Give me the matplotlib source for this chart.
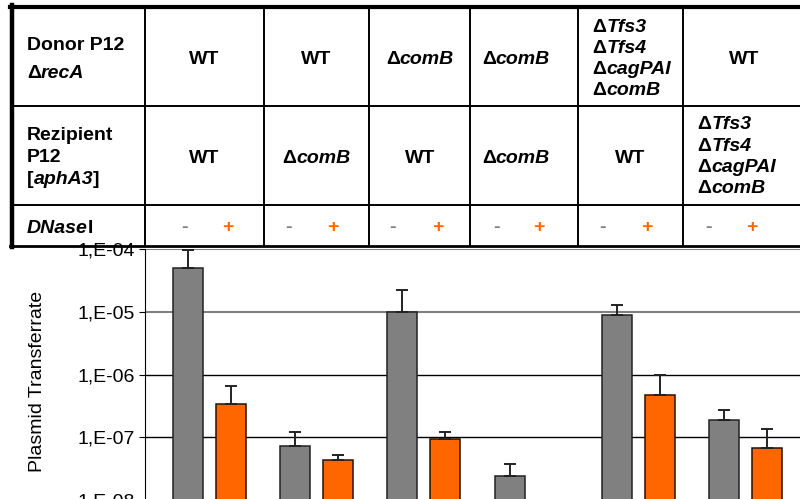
import matplotlib.pyplot as plt
import numpy as np
from matplotlib.ticker import FixedLocator, NullLocator

plt.rcParams['font.family'] = ['Liberation Sans', 'DejaVu Sans']

# data (plasmid transfer rate, log scale)
groups = np.arange(6)
minus_dnase = [5.0e-5, 7.2e-8, 1.0e-5, 2.45e-8, 9.0e-6, 1.88e-7]
minus_err = [4.6e-5, 5.1e-8, 1.2e-5, 1.3e-8, 3.9e-6, 0.83e-7]
plus_dnase = [3.4e-7, 4.4e-8, 9.4e-8, np.nan, 4.7e-7, 6.8e-8]
plus_err = [3.1e-7, 0.8e-8, 2.9e-8, np.nan, 5.3e-7, 6.9e-8]
yticks = [1e-8, 1e-7, 1e-6, 1e-5, 1e-4]
ytick_labels = ['1,E-08', '1,E-07', '1,E-06', '1,E-05', '1,E-04']

donor = ['WT', 'WT', 'ΔcomB', 'ΔcomB', 'ΔTfs3\nΔTfs4\nΔcagPAI\nΔcomB', 'WT']
recipient = ['WT', 'ΔcomB', 'WT', 'ΔcomB', 'WT', 'ΔTfs3\nΔTfs4\nΔcagPAI\nΔcomB']

GRAY = '#808080'
ORANGE = '#ff6600'

fig = plt.figure(figsize=(8, 4.99), dpi=100)

# ---- bar chart ----
ax = fig.add_axes([145 / 800, (499 - 500.2) / 499, 655 / 800, 251.2 / 499])
w = 0.28
off = 0.2
ax.bar(groups - off, minus_dnase, w, color=GRAY, edgecolor='#222222', lw=1.1,
       yerr=[np.zeros(6), minus_err], capsize=4,
       error_kw=dict(ecolor='#222222', elinewidth=1.4, capthick=1.4), zorder=3)
ax.bar(groups + off, plus_dnase, w, color=ORANGE, edgecolor='#2a1000', lw=1.1,
       yerr=[np.zeros(6), plus_err], capsize=4,
       error_kw=dict(ecolor='#222222', elinewidth=1.4, capthick=1.4), zorder=3)
ax.set_yscale('log')
ax.set_ylim(1e-8, 1e-4)
ax.set_xlim(-0.603, 5.51)
ax.yaxis.set_major_locator(FixedLocator(yticks))
ax.yaxis.set_minor_locator(NullLocator())
ax.set_yticklabels(ytick_labels, fontsize=14)
ax.tick_params(axis='y', length=4.3, width=0.8, pad=3)
ax.set_xticks([])
for s in ['top', 'right', 'bottom']:
    ax.spines[s].set_visible(False)
ax.spines['left'].set_linewidth(0.8)
for v in yticks[1:]:
    c = GRAY if v >= 1e-5 else 'black'
    ax.axhline(v, color=c, lw=1.5 if c == GRAY else 1.0, zorder=1)
fig.text(37.5 / 800, 1 - 381 / 499, 'Plasmid Transferrate', rotation=90,
         ha='center', va='center', fontsize=14)

# ---- table on top (pixel coordinates) ----
tb = fig.add_axes([0, 0, 1, 1])
tb.set_xlim(0, 800)
tb.set_ylim(499, 0)
tb.axis('off')
tb.patch.set_alpha(0)

cols = [145, 264, 369, 470, 578, 683]
for x in cols:
    tb.plot([x, x], [7, 246], color='black', lw=1.4)
for y in [106, 205]:
    tb.plot([11, 800], [y, y], color='black', lw=1.4)
tb.plot([9.5, 800], [7, 7], color='black', lw=3.0)
tb.plot([11.5, 11.5], [5, 247], color='black', lw=3.2)
tb.plot([9.5, 800], [246, 246], color='black', lw=2.0)

fs = 14


def rich(x, y, parts, ha='left'):
    # draws bold text pieces side by side, some of them italic
    r = fig.canvas.get_renderer()
    texts = []
    for s, it in parts:
        t = tb.text(x, y, s, fontsize=fs, fontweight='bold',
                    fontstyle='italic' if it else 'normal', va='baseline')
        texts.append(t)
    widths = [t.get_window_extent(r).width for t in texts]
    total = sum(widths)
    x0 = x - total / 2 if ha == 'center' else x
    for t, wd in zip(texts, widths):
        t.set_x(x0)
        x0 += wd


def gene(label):
    # 'ΔcomB' -> Δ upright, name italic
    if label.startswith('Δ'):
        return [('Δ', False), (label[1:], True)]
    return [(label, False)]


rich(27, 50, [('Donor P12', False)])
rich(27, 78.3, gene('ΔrecA'))
rich(27, 139.5, [('Rezipient', False)])
rich(27, 161.5, [('P12', False)])
rich(27, 183.5, [('[', False), ('aphA3', True), (']', False)])
rich(27, 233.3, [('DNase', True), ('I', False)])

centers1 = [204.5, 316.5, 420, 516, 592.7, 744.5]
centers2 = [204.5, 316.5, 420, 516, 630.5, 697.7]
for i, lab in enumerate(donor):
    lines = lab.split('\n')
    if len(lines) == 1:
        rich(centers1[i], 64.3, gene(lab), ha='center')
    else:
        for j, ln in enumerate(lines):
            rich(centers1[i], 31.7 + j * 21.2, gene(ln))
for i, lab in enumerate(recipient):
    lines = lab.split('\n')
    if len(lines) == 1:
        rich(centers2[i], 162.7, gene(lab), ha='center')
    else:
        for j, ln in enumerate(lines):
            rich(centers2[i], 129.3 + j * 21.3, gene(ln))

minus_x = [184, 289, 393, 496, 603, 709]
plus_x = [228, 333, 438, 539, 647, 752]
for xm, xp in zip(minus_x, plus_x):
    tb.text(xm, 227.5, '-', fontsize=fs, fontweight='bold', color=GRAY,
            ha='center', va='center')
    tb.text(xp, 227.5, '+', fontsize=fs, fontweight='bold', color=ORANGE,
            ha='center', va='center')

fig.savefig('out.png', dpi=100)
